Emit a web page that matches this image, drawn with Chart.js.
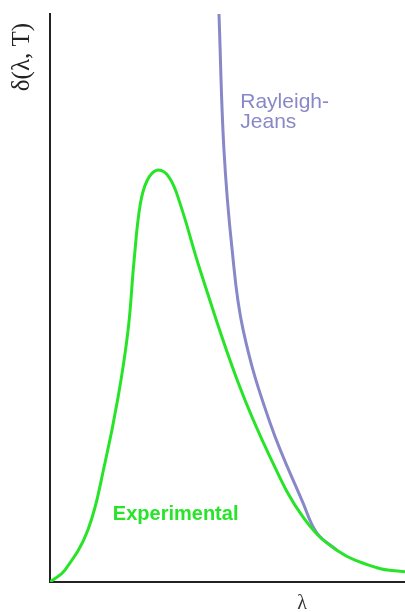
<!DOCTYPE html>
<html>
<head>
<meta charset="utf-8">
<script src="https://cdn.jsdelivr.net/npm/chart.js@4"></script>
<style>
  html, body { margin: 0; padding: 0; background: #fff; }
  #wrap { width: 405px; height: 612px; }
</style>
</head>
<body>
<div id="wrap"><canvas id="chart" width="405" height="612"></canvas></div>
<script>
var expX = [0, 4.2, 10.7, 15.5, 19.2, 22.0, 23.7, 25.4, 27.3, 30.1, 33.5, 36.6, 42.3, 52.7, 62.0, 71.3, 80.8, 92.1, 100];
var expY = [0, 2.1, 9.2, 21.0, 32.6, 44.4, 56.7, 66.4, 70.6, 72.5, 71.3, 66.7, 54.9, 35.6, 22.0, 11.4, 5.6, 2.5, 1.8];

// Rayleigh-Jeans Kurve
var rjX = [47.6, 49.0, 51.3, 54.4, 62.0, 71.3, 75.2, 80.8];
var rjY = [100, 76.1, 58.5, 44.4, 28.0, 13.9, 8.6, 5.6];

var yTitle = 'δ(λ, T)';
var xTitle = 'λ';
var rjLabel = ['Rayleigh-', 'Jeans'];
var expLabel = 'Experimental';

function toPoints(xs, ys) {
    var pts = [];
    for (var i = 0; i < xs.length; i++) pts.push({ x: xs[i], y: ys[i] });
    return pts;
}

var greenColor = 'rgb(40, 228, 40)';
var purpleColor = 'rgb(136, 136, 200)';

var labelPlugin = {
    id: 'labels',
    afterDraw: function(chart) {
        var ctx = chart.ctx;
        var xs = chart.scales.x, ys = chart.scales.y;
        ctx.save();
        // y-Achsentitel
        ctx.fillStyle = '#222';
        ctx.font = '25px "Liberation Serif", "DejaVu Serif", serif';
        ctx.translate(22, 57);
        ctx.rotate(-Math.PI / 2);
        ctx.textAlign = 'center';
        ctx.textBaseline = 'middle';
        ctx.fillText(yTitle, 0, 0);
        ctx.restore();

        ctx.save();
        ctx.fillStyle = '#333';
        ctx.font = '20px "Liberation Serif", "DejaVu Serif", serif';
        ctx.textAlign = 'center';
        ctx.textBaseline = 'middle';
        ctx.fillText(xTitle, 302, 604);

        // Rayleigh-Jeans Beschriftung
        ctx.fillStyle = purpleColor;
        ctx.font = '21px "Liberation Sans", Arial, sans-serif';
        ctx.textAlign = 'left';
        ctx.textBaseline = 'alphabetic';
        ctx.fillText(rjLabel[0], xs.getPixelForValue(53.6), ys.getPixelForValue(83.5));
        ctx.fillText(rjLabel[1], xs.getPixelForValue(53.6), ys.getPixelForValue(80.0));

        // Experimental Beschriftung
        ctx.fillStyle = greenColor;
        ctx.font = 'bold 20px "Liberation Sans", Arial, sans-serif';
        ctx.fillText(expLabel, xs.getPixelForValue(17.7), ys.getPixelForValue(10.9));
        ctx.restore();
    }
};

new Chart(document.getElementById('chart'), {
    type: 'line',
    data: {
        datasets: [{
            label: 'Rayleigh-Jeans',
            data: toPoints(rjX, rjY),
            borderColor: purpleColor,
            borderWidth: 3,
            pointRadius: 0,
            tension: 0.4,
            fill: false,
            order: 2
        }, {
            label: 'Experimental',
            data: toPoints(expX, expY),
            borderColor: greenColor,
            borderWidth: 3,
            pointRadius: 0,
            tension: 0.4,
            fill: false,
            order: 1
        }]
    },
    options: {
        responsive: false,
        animation: false,
        layout: { padding: { top: 14, right: 0, left: 0, bottom: 0 } },
        plugins: {
            legend: { display: false },
            tooltip: { enabled: false }
        },
        scales: {
            x: {
                type: 'linear',
                min: 0,
                max: 100,
                grid: { display: false },
                ticks: { display: false },
                border: { display: true, color: '#222', width: 2 },
                afterFit: function(scale) { scale.height = 30; }
            },
            y: {
                min: 0,
                max: 100,
                grid: { display: false },
                ticks: { display: false },
                border: { display: true, color: '#222', width: 2 },
                afterFit: function(scale) { scale.width = 50; }
            }
        }
    },
    plugins: [labelPlugin]
});
</script>
</body>
</html>
